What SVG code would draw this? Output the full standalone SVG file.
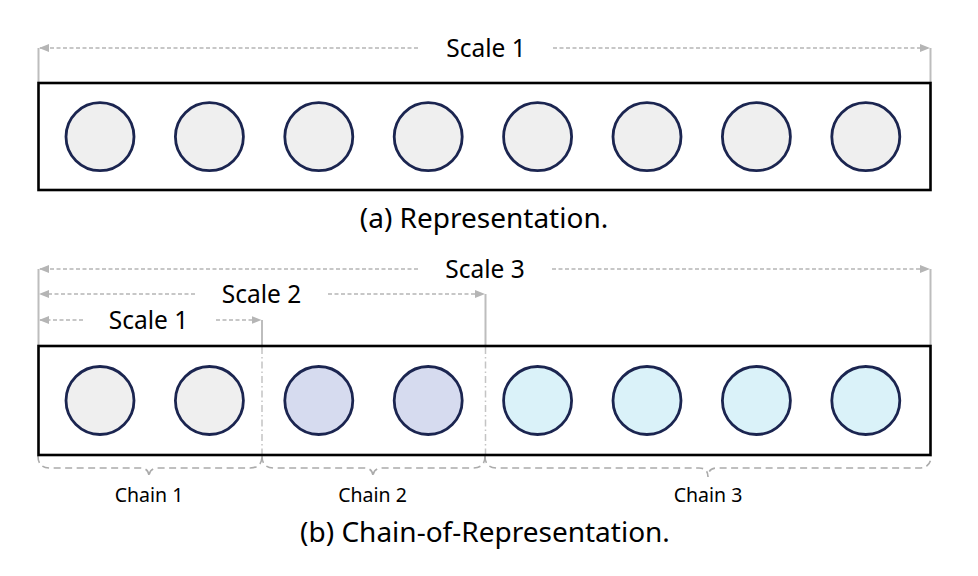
<svg xmlns="http://www.w3.org/2000/svg" width="978" height="576" viewBox="0 0 978 576">
<defs>
<marker id="ah" viewBox="0 0 10 8" refX="9" refY="4" markerWidth="10" markerHeight="8" markerUnits="userSpaceOnUse" orient="auto-start-reverse">
<path d="M0,0 L10,4 L0,8 Z" fill="#b5b5b5"/>
</marker>
<style>
.box{fill:none;stroke:#000;stroke-width:2.6}
.n{stroke:#1b2550;stroke-width:2.8}
.g{fill:#efefef}
.l{fill:#d6dbef}
.c{fill:#daf2f9}
.dim{fill:none;stroke:#b5b5b5;stroke-width:1.3;stroke-dasharray:4 2.5}
.vert{fill:none;stroke:#bdbdbd;stroke-width:2}
.dd{fill:none;stroke:#c4c4c4;stroke-width:1.5;stroke-dasharray:7 3 1.5 3}
.br{fill:none;stroke:#ababab;stroke-width:1.6;stroke-dasharray:7 4.5}
.t{font-family:"Noto Sans","Open Sans",sans-serif;fill:#000;text-anchor:middle}
.lab{font-size:24.5px}
.cap{font-size:28px}
.ch{font-size:19.5px}
</style>
</defs>
<rect width="978" height="576" fill="#fff"/>

<g id="connectors">
<path class="vert" d="M38.5,48 V83"/>
<path class="vert" d="M930.5,48 V83"/>
<line class="dim" x1="418" y1="48" x2="40" y2="48" marker-end="url(#ah)"/>
<line class="dim" x1="553" y1="48" x2="929" y2="48" marker-end="url(#ah)"/>
<path class="vert" d="M38.5,269 V346"/>
<path class="vert" d="M930.5,269 V346"/>
<path class="vert" d="M262,320 V346"/>
<path class="vert" d="M485.5,294 V346"/>
<line class="dim" x1="418" y1="269" x2="40" y2="269" marker-end="url(#ah)"/>
<line class="dim" x1="552" y1="269" x2="929" y2="269" marker-end="url(#ah)"/>
<line class="dim" x1="195" y1="294" x2="40" y2="294" marker-end="url(#ah)"/>
<line class="dim" x1="328" y1="294" x2="484" y2="294" marker-end="url(#ah)"/>
<line class="dim" x1="83" y1="320" x2="40" y2="320" marker-end="url(#ah)"/>
<line class="dim" x1="216" y1="320" x2="260.5" y2="320" marker-end="url(#ah)"/>
<path class="dd" d="M262,347 V455"/>
<path class="dd" d="M485.5,347 V455"/>
<path class="br" d="M38,456 Q38,468 50,468 L140,468 Q149,468 149,477 Q149,468 158,468 L250,468 Q262,468 262,456"/>
<path class="br" d="M262,456 Q262,468 274,468 L364,468 Q373,468 373,477 Q373,468 382,468 L473,468 Q485,468 485,456"/>
<path class="br" d="M485,456 Q485,468 497,468 L699,468 Q708,468 708,477 Q708,468 717,468 L919,468 Q931,468 931,456"/>
</g>

<g id="panel-a">
<rect class="box" x="38.5" y="83" width="892" height="107"/>
</g>
<g id="a-nodes">
<g id="a1"><circle class="n g" cx="100" cy="136.7" r="34"/></g>
<g id="a2"><circle class="n g" cx="209.4" cy="136.7" r="34"/></g>
<g id="a3"><circle class="n g" cx="318.8" cy="136.7" r="34"/></g>
<g id="a4"><circle class="n g" cx="428.2" cy="136.7" r="34"/></g>
<g id="a5"><circle class="n g" cx="537.6" cy="136.7" r="34"/></g>
<g id="a6"><circle class="n g" cx="647" cy="136.7" r="34"/></g>
<g id="a7"><circle class="n g" cx="756.4" cy="136.7" r="34"/></g>
<g id="a8"><circle class="n g" cx="865.8" cy="136.7" r="34"/></g>
</g>

<g id="panel-b">
<rect class="box" x="38.5" y="346" width="892" height="109"/>
</g>
<g id="b-nodes">
<g id="b1"><circle class="n g" cx="100" cy="400.5" r="34"/></g>
<g id="b2"><circle class="n g" cx="209.4" cy="400.5" r="34"/></g>
<g id="b3"><circle class="n l" cx="318.8" cy="400.5" r="34"/></g>
<g id="b4"><circle class="n l" cx="428.2" cy="400.5" r="34"/></g>
<g id="b5"><circle class="n c" cx="537.6" cy="400.5" r="34"/></g>
<g id="b6"><circle class="n c" cx="647" cy="400.5" r="34"/></g>
<g id="b7"><circle class="n c" cx="756.4" cy="400.5" r="34"/></g>
<g id="b8"><circle class="n c" cx="865.8" cy="400.5" r="34"/></g>
</g>

<g id="labels">
<text class="t lab" x="486" y="57">Scale 1</text>
<text class="t cap" x="484" y="228">(a) Representation.</text>
<text class="t lab" x="485" y="278">Scale 3</text>
<text class="t lab" x="261.5" y="303">Scale 2</text>
<text class="t lab" x="148.5" y="329">Scale 1</text>
<text class="t ch" x="149" y="502">Chain 1</text>
<text class="t ch" x="372.5" y="502">Chain 2</text>
<text class="t ch" x="708" y="502">Chain 3</text>
<text class="t cap" x="485" y="542">(b) Chain-of-Representation.</text>
</g>
</svg>
